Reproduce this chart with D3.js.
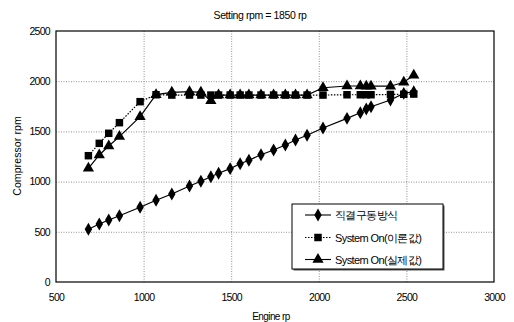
<!DOCTYPE html>
<html>
<head>
<meta charset="utf-8">
<script src="https://cdn.jsdelivr.net/npm/d3@7"></script>
<style>
  body { margin: 0; background: #fff; }
  text { font-family: "Liberation Sans", Arial, sans-serif; fill: #000; }
  .grid line { stroke: #777; stroke-dasharray: 1, 1.5; stroke-width: 0.8; }
  .grid path { display: none; }
</style>
</head>
<body>
<div id="chart"></div>
<script>
//DATA
const engineRpm   = [685, 747, 801, 862, 980, 1071, 1161, 1262, 1327, 1384, 1428, 1494, 1551, 1601,
                     1670, 1742, 1809, 1867, 1933, 2024, 2161, 2237, 2271, 2298, 2409, 2485, 2542]
const directDrive = [525, 578, 618, 660, 744, 814, 876, 956, 1003, 1049, 1083, 1129, 1178, 1212,
                     1268, 1315, 1365, 1414, 1461, 1534, 1630, 1686, 1723, 1746, 1813, 1879, 1896]
const theoryOn    = [1258, 1381, 1481, 1587, 1796, 1865, 1862, 1862, 1862, 1862, 1862, 1862, 1862, 1862,
                     1862, 1862, 1862, 1862, 1862, 1862, 1865, 1865, 1865, 1865, 1868, 1870, 1872]
const actualOn    = [1132, 1265, 1355, 1448, 1647, 1866, 1889, 1896, 1889, 1806, 1862, 1862, 1862, 1862,
                     1862, 1862, 1862, 1862, 1862, 1935, 1952, 1952, 1950, 1950, 1950, 1990, 2060]
const seriesNames = ["직결구동방식", "System On(이론값)", "System On(실제값)"]
const xTicks = [500, 1000, 1500, 2000, 2500, 3000]
const yTicks = [0, 500, 1000, 1500, 2000, 2500]

//MARGIN CONVENTION
const WIDTH = 514, HEIGHT = 322
const PLOT = { LEFT: 56, RIGHT: 494, TOP: 31, BOTTOM: 282 }

const svg = d3.select("#chart").append("svg")
  .attr("width", WIDTH).attr("height", HEIGHT)

//SCALES
const xScale = d3.scaleLinear().domain([500, 3000]).range([PLOT.LEFT, PLOT.RIGHT])
const yScale = d3.scaleLinear().domain([0, 2500]).range([PLOT.BOTTOM, PLOT.TOP])

// GRID
svg.append("g").attr("class", "grid")
  .attr("transform", `translate(0, ${PLOT.BOTTOM})`)
  .call(d3.axisBottom(xScale).tickValues(xTicks.slice(1, -1)).tickSize(-(PLOT.BOTTOM - PLOT.TOP)).tickFormat(""))
svg.append("g").attr("class", "grid")
  .attr("transform", `translate(${PLOT.LEFT}, 0)`)
  .call(d3.axisLeft(yScale).tickValues(yTicks.slice(1, -1)).tickSize(-(PLOT.RIGHT - PLOT.LEFT)).tickFormat(""))

// border
svg.append("rect")
  .attr("x", PLOT.LEFT).attr("y", PLOT.TOP)
  .attr("width", PLOT.RIGHT - PLOT.LEFT).attr("height", PLOT.BOTTOM - PLOT.TOP)
  .attr("fill", "none").attr("stroke", "#000").attr("stroke-width", 1.2)

//AXES
const gx = svg.append("g").attr("transform", `translate(0, ${PLOT.BOTTOM})`)
  .call(d3.axisBottom(xScale).tickValues(xTicks).tickSize(0).tickPadding(12).tickFormat(d3.format("d")))
const gy = svg.append("g").attr("transform", `translate(${PLOT.LEFT}, 0)`)
  .call(d3.axisLeft(yScale).tickValues(yTicks).tickSize(0).tickPadding(6).tickFormat(d3.format("d")))
gx.select(".domain").remove()
gy.select(".domain").remove()
svg.selectAll(".tick text").attr("font-size", 10.5).attr("letter-spacing", -0.7)
  .attr("font-family", "Liberation Sans, Arial, sans-serif").attr("fill", "#000")

//LABELS
svg.append("text").text("Setting rpm = 1850 rp")
  .attr("x", 260).attr("y", 19).attr("text-anchor", "middle")
  .attr("font-size", 10.5).attr("letter-spacing", -0.4)
svg.append("text").text("Engine rp")
  .attr("x", 271).attr("y", 320).attr("text-anchor", "middle")
  .attr("font-size", 10).attr("letter-spacing", -0.6)
svg.append("text").text("Compressor rpm")
  .attr("transform", `translate(21, 156) rotate(-90)`).attr("text-anchor", "middle")
  .attr("font-size", 10.5).attr("letter-spacing", 0.1)

//SERIES
const series = [
  { name: seriesNames[0], values: directDrive, symbol: d3.symbolDiamond, size: 48, dash: null },
  { name: seriesNames[1], values: theoryOn, symbol: d3.symbolSquare, size: 56, dash: "1.5,1.5" },
  { name: seriesNames[2], values: actualOn, symbol: d3.symbolTriangle, size: 55, dash: null }
]
const line = d3.line().x(d => xScale(d[0])).y(d => yScale(d[1]))

series.forEach(s => {
  const pts = engineRpm.map((x, i) => [x, s.values[i]])
  svg.append("path").attr("d", line(pts))
    .attr("fill", "none").attr("stroke", "#000").attr("stroke-width", 1.2)
    .attr("stroke-dasharray", s.dash)
  svg.append("g").selectAll("path").data(pts).join("path")
    .attr("d", d3.symbol(s.symbol, s.size))
    .attr("transform", d => `translate(${xScale(d[0])}, ${yScale(d[1])})`)
    .attr("fill", "#000")
})

//LEGEND
const LEG = { X: 292, Y: 204, W: 151, H: 65 }
svg.append("rect").attr("x", LEG.X + 1.5).attr("y", LEG.Y + 1.5)
  .attr("width", LEG.W).attr("height", LEG.H).attr("fill", "#555")
svg.append("rect").attr("x", LEG.X).attr("y", LEG.Y)
  .attr("width", LEG.W).attr("height", LEG.H)
  .attr("fill", "#fff").attr("stroke", "#000").attr("stroke-width", 1)
const legRows = [215, 237.5, 259.5]
series.forEach((s, i) => {
  const g = svg.append("g").attr("transform", `translate(0, ${legRows[i]})`)
  g.append("line").attr("x1", 305).attr("x2", 331).attr("y1", 0).attr("y2", 0)
    .attr("stroke", "#000").attr("stroke-width", 1.1).attr("stroke-dasharray", s.dash)
  g.append("path").attr("d", d3.symbol(s.symbol, s.size)).attr("transform", "translate(318, 0)")
  g.append("text").text(s.name).attr("x", 335).attr("y", 4)
    .attr("font-size", 11).attr("letter-spacing", -0.6)
    .attr("font-family", "Liberation Sans, 'Noto Sans CJK KR', sans-serif")
})
</script>
</body>
</html>
